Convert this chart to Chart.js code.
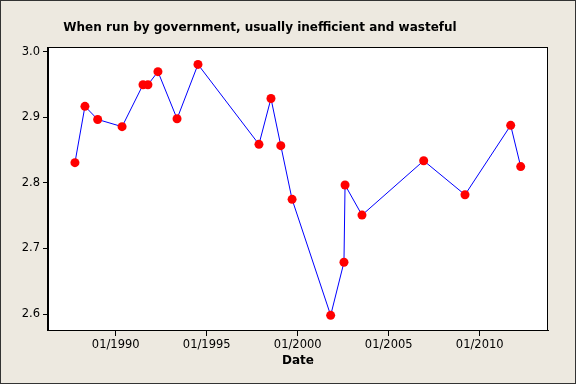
<!DOCTYPE html>
<html>
<head>
<meta charset="utf-8">
<script src="https://cdn.jsdelivr.net/npm/chart.js@4.4.1/dist/chart.umd.min.js"></script>
<style>
  html, body { margin: 0; padding: 0; background: #EDE9E0; }
  canvas { display: block; }
</style>
</head>
<body>
<canvas id="chart" width="576" height="384"></canvas>
<script>
// survey dates as decimal years
var dates = [1987.76, 1988.31, 1989.01, 1990.35, 1991.50, 1991.77, 1992.32, 1993.37, 1994.52,
             1997.87, 1998.53, 1999.07, 1999.69, 2001.81, 2002.54, 2002.60, 2003.53,
             2006.92, 2009.19, 2011.70, 2012.25];
var scores = [2.831, 2.917, 2.897, 2.886, 2.950, 2.950, 2.970, 2.898, 2.981,
              2.859, 2.929, 2.857, 2.775, 2.598, 2.679, 2.797, 2.751,
              2.834, 2.782, 2.888, 2.825];
var xTicks = [1990, 1995, 2000, 2005, 2010];
var yTicks = [2.6, 2.7, 2.8, 2.9, 3.0];

var titleText = 'When run by government, usually inefficient and wasteful';

var points = dates.map(function(d, i) { return {x: d, y: scores[i]}; });

var framePlugin = {
	id: 'frame',
	beforeDraw: function(chart) {
		var c = chart.ctx;
		c.save();
		c.fillStyle = '#EDE9E0';
		c.fillRect(0, 0, chart.width, chart.height);
		var a = chart.chartArea;
		c.fillStyle = '#FFFFFF';
		c.fillRect(a.left, a.top, a.right - a.left, a.bottom - a.top);
		c.restore();
	},
	afterDraw: function(chart) {
		var c = chart.ctx;
		var a = chart.chartArea;
		c.save();
		c.strokeStyle = '#000';
		c.lineWidth = 1;
		c.strokeRect(Math.round(a.left) - 0.5, Math.round(a.top) + 0.5, Math.round(a.right - a.left), Math.round(a.bottom - a.top));
		c.strokeStyle = '#333';
		c.strokeRect(0.5, 0.5, chart.width - 1, chart.height - 1);
		c.fillStyle = '#000';
		c.font = 'bold 12px "DejaVu Sans"';
		c.textAlign = 'center';
		c.textBaseline = 'middle';
		c.fillText(titleText, 260, 28);
		c.font = 'bold 12px "DejaVu Sans"';
		c.fillText('Date', 298, 361);
		c.restore();
	}
};

new Chart(document.getElementById('chart'), {
	type: 'line',
	data: {
		datasets: [{
			data: points,
			borderColor: '#0000FF',
			borderWidth: 1,
			pointBackgroundColor: '#FF0000',
			pointBorderColor: '#FF0000',
			pointBorderWidth: 0,
			pointRadius: 4.5,
			tension: 0
		}]
	},
	options: {
		responsive: false,
		animation: false,
		layout: { padding: { left: 0, top: 47, right: 28, bottom: 0 } },
		plugins: {
			legend: { display: false },
			title: { display: false },
			tooltip: { enabled: false }
		},
		scales: {
			x: {
				type: 'linear',
				min: 1986.28,
				max: 2013.75,
				afterFit: function(s) { s.height = 54; },
				afterBuildTicks: function(s) { s.ticks = xTicks.map(function(v) { return {value: v}; }); },
				grid: { drawOnChartArea: false, drawTicks: true, tickLength: 6, color: '#000' },
				border: { color: '#000', width: 1 },
				ticks: {
					color: '#000',
					padding: 2,
					maxRotation: 0,
					font: { family: 'DejaVu Sans', size: 11.5 },
					callback: function(v) { return '01/' + v; }
				}
			},
			y: {
				min: 2.5756,
				max: 3.0076,
				afterFit: function(s) { s.width = 48; },
				afterBuildTicks: function(s) { s.ticks = yTicks.map(function(v) { return {value: v}; }); },
				grid: { drawOnChartArea: false, drawTicks: true, tickLength: 5, color: '#000' },
				border: { color: '#000', width: 1 },
				ticks: {
					color: '#000',
					padding: 3,
					font: { family: 'DejaVu Sans', size: 11.5 },
					callback: function(v) { return v.toFixed(1); }
				}
			}
		}
	},
	plugins: [framePlugin]
});
</script>
</body>
</html>
